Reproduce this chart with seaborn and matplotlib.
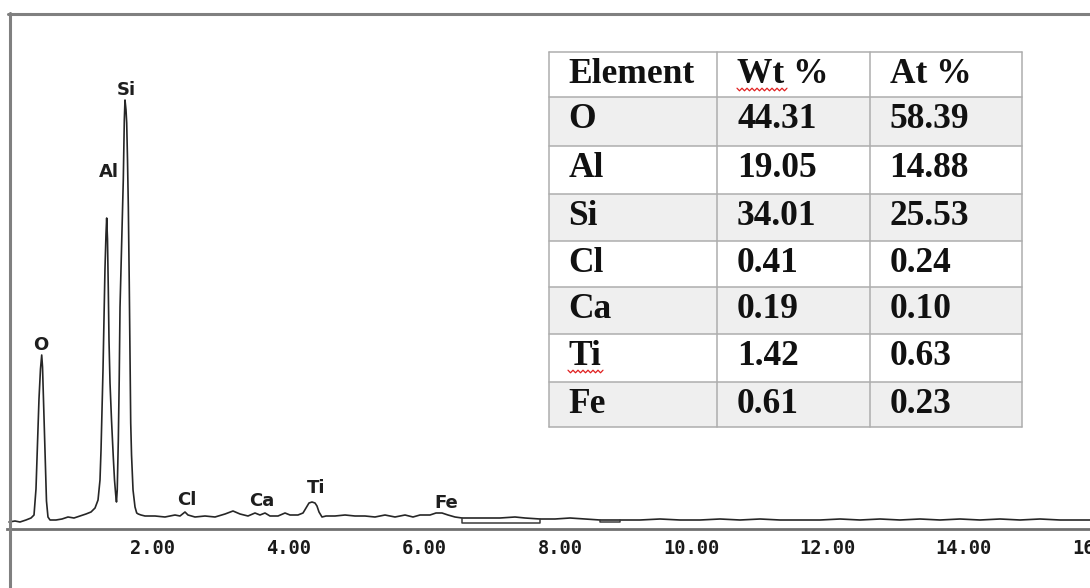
import numpy as np
import pandas as pd
import matplotlib
matplotlib.use("Agg")
import matplotlib.pyplot as plt
import seaborn as sns
from matplotlib.lines import Line2D
from matplotlib.patches import Rectangle
from matplotlib.transforms import ScaledTranslation

# ---------------- data ----------------
energy_kev = [0.037, 0.125, 0.198, 0.286, 0.360, 0.404, 0.433, 0.448, 0.477, 0.499,
              0.517, 0.529, 0.543, 0.558, 0.573, 0.587, 0.609, 0.639, 0.727, 0.815,
              0.903, 0.991, 1.079, 1.167, 1.241, 1.300, 1.344,
              1.373, 1.388, 1.402, 1.417, 1.432, 1.446, 1.461, 1.471, 1.483, 1.495,
              1.505, 1.520, 1.542, 1.568, 1.586, 1.604, 1.615,
              1.626, 1.642, 1.655, 1.667, 1.689, 1.715, 1.730, 1.740, 1.755, 1.765,
              1.777, 1.789, 1.802, 1.814, 1.824, 1.836, 1.858, 1.887, 1.912, 1.935,
              1.975, 2.034,
              2.181, 2.327, 2.474, 2.548, 2.621, 2.665, 2.768, 2.915, 3.062, 3.209,
              3.326, 3.429, 3.546, 3.649, 3.722, 3.796, 3.869, 3.987, 4.090, 4.163,
              4.280, 4.354, 4.398, 4.442, 4.486, 4.530, 4.559, 4.589, 4.633, 4.692,
              4.824, 4.971, 5.117, 5.264, 5.411, 5.558, 5.705, 5.852, 5.969, 6.072,
              6.219, 6.307, 6.395, 6.483, 6.586, 6.689, 6.953, 7.247, 7.467, 7.614,
              7.834, 8.054, 8.275, 8.495, 8.715, 9.009, 9.302, 9.596, 9.890, 10.184,
              10.477, 10.771, 11.065, 11.358, 11.652, 11.946, 12.240, 12.533, 12.827,
              13.120, 13.414, 13.708, 14.001, 14.295, 14.589, 14.883, 15.176, 15.470,
              15.910]
counts = [7, 8, 7, 9, 11, 14, 40, 70, 130, 160,
          174, 162, 130, 96, 58, 28, 12, 9, 9, 10,
          12, 11, 13, 15, 17, 21, 29,
          49, 79, 119, 159, 210, 260, 295, 311, 290, 239,
          189, 146, 109, 72, 49, 34, 27,
          39, 89, 149, 222, 279, 349, 409, 429, 419, 406,
          369, 322, 249, 172, 106, 74, 39, 22, 16, 15,
          14, 13,
          13, 12, 14, 13, 17, 14, 12, 13, 12, 15,
          18, 15, 13, 16, 14, 16, 13, 13, 16, 14,
          14, 16, 21, 26, 27, 26, 23, 17, 12, 13,
          13, 14, 13, 13, 12, 14, 12, 14, 12, 14,
          14, 16, 16, 14, 12, 11, 11, 11, 12, 11,
          10, 10, 11, 10, 9, 9, 9, 10, 9, 9,
          10, 9, 10, 9, 9, 9, 10, 9, 10,
          9, 10, 9, 10, 9, 10, 9, 10, 9,
          9]

# background-fit markers drawn under the spectrum
bg1_kev = [6.689, 6.689, 7.834, 7.834]
bg1_counts = [11, 6, 6, 10]
bg2_kev = [8.715, 8.715, 9.009, 9.009]
bg2_counts = [9, 7, 7, 9]

peak_labels = ["O", "Al", "Si", "Cl", "Ca", "Ti", "Fe"]

tick_values = [2, 4, 6, 8, 10, 12, 14, 16]
tick_labels = ["2.00", "4.00", "6.00", "8.00", "10.00", "12.00", "14.00", "16.00"]

table_headers = ["Element", "Wt %", "At %"]
table_elements = ["O", "Al", "Si", "Cl", "Ca", "Ti", "Fe"]
wt_pct = [44.31, 19.05, 34.01, 0.41, 0.19, 1.42, 0.61]
at_pct = [58.39, 14.88, 25.53, 0.24, 0.10, 0.63, 0.23]

# ---------------- layout ----------------
W, H = 1090, 588
sns.set_style("white")
plt.rcParams["font.family"] = ["DejaVu Sans"]

fig = plt.figure(figsize=(W / 100, H / 100), dpi=100)
fig.patch.set_facecolor("white")


def fx(px):
    return px / W


def fy(py):
    return 1 - py / H


ax = fig.add_axes([6.5 / W, 59 / H, 1089.6 / W, 516 / H])
ax.patch.set_alpha(0)

df = pd.DataFrame({"keV": energy_kev, "counts": counts})
sns.lineplot(data=df, x="keV", y="counts", ax=ax, color="#262626",
             linewidth=1.2, estimator=None, sort=False)
ax.plot(bg1_kev, bg1_counts, color="#3a3a3a", linewidth=1.1)
ax.plot(bg2_kev, bg2_counts, color="#3a3a3a", linewidth=1.1)

ax.set_xlim(0, 16)
ax.set_ylim(0, 516)
for s in ["top", "left", "right"]:
    ax.spines[s].set_visible(False)
ax.spines["bottom"].set_color("#707070")
ax.spines["bottom"].set_linewidth(2.0)
ax.set_yticks([])
ax.set_xlabel("")
ax.set_ylabel("")
ax.set_xticks(tick_values)
ax.set_xticklabels(tick_labels, fontfamily="DejaVu Sans Mono",
                   fontweight="bold", fontsize=13.5, color="#1a1a1a")
ax.tick_params(axis="x", direction="inout", length=4.5, width=1.5,
               color="#1a1a1a", pad=5)
offset = ScaledTranslation(32 / 100, 0, fig.dpi_scale_trans)
for lbl in ax.get_xticklabels():
    lbl.set_ha("right")
    lbl.set_transform(lbl.get_transform() + offset)

# peak labels (layout positions in data coordinates)
label_pos = [(0.499, 179), (1.498, 352), (1.755, 434), (2.643, 24),
             (3.752, 23), (4.545, 36), (6.454, 21)]
for name, (lx, ly) in zip(peak_labels, label_pos):
    ax.text(lx, ly, name, ha="center", va="baseline", fontsize=13,
            fontweight="bold", family="DejaVu Sans", color="#1e1e1e")

# outer frame
frame_col = "#808080"
fig.add_artist(Line2D([fx(8), fx(W + 5)], [fy(13.5), fy(13.5)],
                      transform=fig.transFigure, color=frame_col, linewidth=2.2))
fig.add_artist(Line2D([fx(9.5), fx(9.5)], [fy(12.5), fy(H + 5)],
                      transform=fig.transFigure, color=frame_col, linewidth=2.2))

# ---------------- table ----------------
col_edges = [548.5, 717, 869.5, 1021.5]
row_edges = [51.7, 97.3, 146, 194, 240.7, 287.3, 334, 381.7, 426.7]
rows = [table_headers] + [[e, f"{w:.2f}", f"{a:.2f}"]
                          for e, w, a in zip(table_elements, wt_pct, at_pct)]

for r in range(len(rows)):
    top, bot = row_edges[r], row_edges[r + 1]
    fill = "#efefef" if (r % 2 == 1) else "white"
    fig.add_artist(Rectangle((fx(col_edges[0]), fy(bot)),
                             (col_edges[-1] - col_edges[0]) / W, (bot - top) / H,
                             transform=fig.transFigure, facecolor=fill,
                             edgecolor="none", zorder=3))
    for c in range(3):
        fig.text(fx(col_edges[c] + 20), fy(top + 31), rows[r][c],
                 ha="left", va="baseline", fontsize=25.5, fontweight="bold",
                 family="Liberation Serif", color="#111111", zorder=5)

grid_col = "#adadad"
for y in row_edges:
    fig.add_artist(Line2D([fx(col_edges[0]), fx(col_edges[-1])], [fy(y), fy(y)],
                          transform=fig.transFigure, color=grid_col,
                          linewidth=1.1, zorder=4))
for x in col_edges:
    fig.add_artist(Line2D([fx(x), fx(x)], [fy(row_edges[0]), fy(row_edges[-1])],
                          transform=fig.transFigure, color=grid_col,
                          linewidth=1.1, zorder=4))

# red spell-check squiggles (decoration)
for x0, x1, yc in [(737, 787, 89.5), (568, 605, 371.5)]:
    xs = np.arange(x0, x1 + 0.1, 2.5)
    ys = yc + np.where(np.arange(len(xs)) % 2 == 0, -1.3, 1.3)
    fig.add_artist(Line2D(fx(xs), fy(ys), transform=fig.transFigure,
                          color="#e02020", linewidth=0.9, zorder=6))

fig.savefig("out.png", dpi=100)
